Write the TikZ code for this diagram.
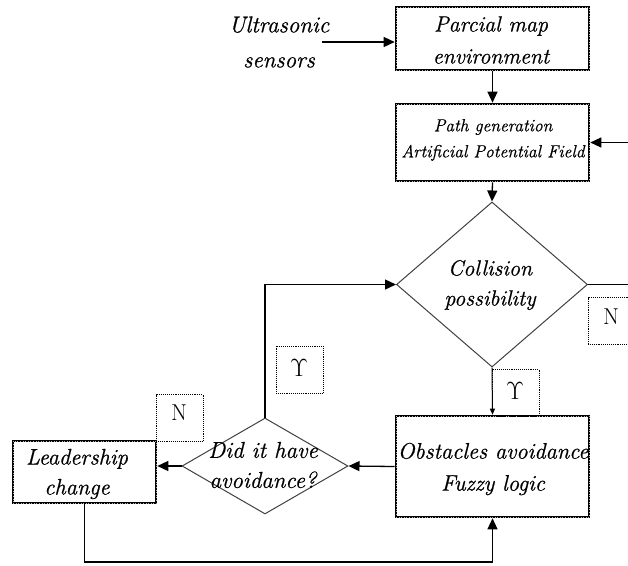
\documentclass[tikz,border=0pt]{standalone}
\usepackage{fontspec}
\setmainfont{Latin Modern Roman}[ItalicFeatures={FakeBold=0.7}]
\usetikzlibrary{shapes.geometric,arrows.meta}
\begin{document}
\begin{tikzpicture}[x=1pt,y=-1pt,
  box/.style={rectangle, draw=black, line width=2.6pt, inner sep=0pt, fill=white,
    postaction={draw=white!70!black, line width=0.3pt, dash pattern=on 0.4pt off 2.2pt}},
  dia/.style={diamond, draw=black!75, line width=1pt, inner sep=0pt},
  lbl/.style={rectangle, draw=black, densely dotted, line width=0.9pt, inner sep=0pt,
    minimum width=47pt, minimum height=47pt},
  txt/.style={align=center, inner sep=0pt, font=\fontsize{22}{31}\selectfont\itshape},
  lbltxt/.style={inner sep=0pt, font=\fontsize{23}{23}\selectfont},
  conn/.style={line width=1.3pt, -{Triangle[length=11pt,width=10pt]}},
  line/.style={line width=1.3pt}
]
\useasboundingbox (0,0) rectangle (628,565);

% boxes
\node[box, minimum width=193pt, minimum height=63pt] (map) at (492.5,38.5) {};
\node[txt, font=\fontsize{22}{32}\selectfont\itshape] (mapt) at (491,40) {Parcial map\\environment};

\node[box, minimum width=193pt, minimum height=77pt] (path) at (492.5,142.5) {};
\node[txt, font=\fontsize{17.5}{26}\selectfont\itshape] (patht) at (493,140) {Path generation\\Artificial Potential Field};

\node[dia, minimum width=191pt, minimum height=165pt] (coll) at (492,284.5) {};
\node[txt, font=\fontsize{22}{30}\selectfont\itshape] (collt) at (490,285) {Collision\\possibility};

\node[box, minimum width=193pt, minimum height=101pt] (obst) at (492.5,466.5) {};
\node[txt, font=\fontsize{22.5}{32}\selectfont\itshape] (obstt) at (493,469) {Obstacles avoidance\\Fuzzy logic};

\node[dia, minimum width=166pt, minimum height=96pt] (did) at (265,466) {};
\node[txt, font=\fontsize{23}{30}\selectfont\itshape] (didt) at (263,465) {Did it have\\avoidance?};

\node[box, minimum width=143pt, minimum height=62pt] (lead) at (84.5,472) {};
\node[txt, font=\fontsize{22.5}{30}\selectfont\itshape] (leadt) at (77,474) {Leadership\\change};

\node[txt, font=\fontsize{23}{35}\selectfont\itshape] (ultra) at (279,42) {Ultrasonic\\sensors};

% labels
\node[lbl] (nR) at (611.5,321) {};
\node[lbltxt] (nRt) at (611,317) {N};
\node[lbl] (yB) at (515.5,393) {};
\node[lbltxt] (yBt) at (515,391) {$\Upsilon$};
\node[lbl] (yL) at (299.5,369.5) {};
\node[lbltxt] (yLt) at (299,368) {$\Upsilon$};
\node[lbl] (nL) at (179.5,418) {};
\node[lbltxt] (nLt) at (179,413) {N};

% coordinates
\coordinate (us) at (322,42);
\coordinate (rc) at (631,284.5);
\coordinate (bot) at (0,562);

% connectors
\draw[conn] (us) -- (us -| map.west);
\draw[conn] (map.south) -- (path.north);
\draw[conn] (path.south) -- (coll.north);
\draw[line] (coll.east) -- (rc);
\draw[conn] (rc) |- (path.east);
\draw[line width=1pt, -{Triangle[length=6pt,width=5pt]}] (coll.south) -- (obst.north);
\draw[conn] (obst.west) -- (did.east);
\draw[conn] (did.west) -- (did.west -| lead.east);
\draw[conn] (did.north) |- (coll.west);
\draw[conn] (lead.south) -- (lead.south |- bot) -| (obst.south);
\end{tikzpicture}
\end{document}
